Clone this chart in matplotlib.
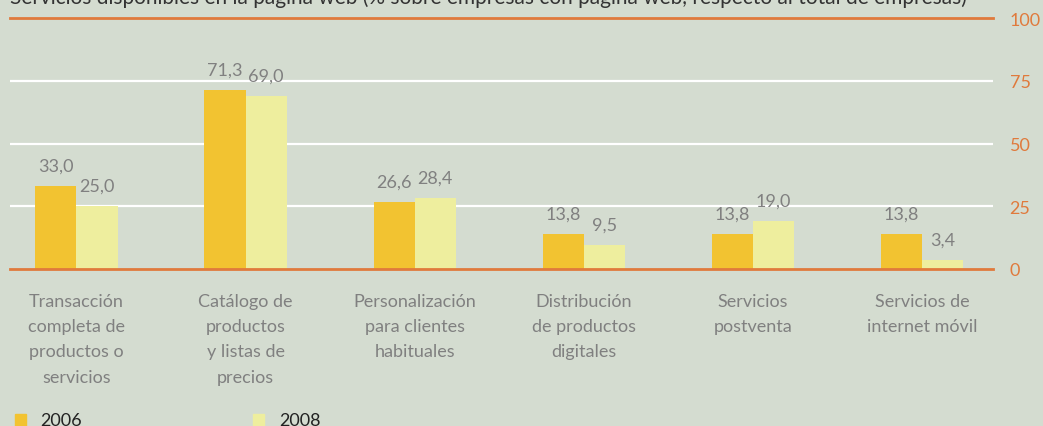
import matplotlib as mlb
mlb.use('Agg')
import matplotlib.pyplot as plt
from matplotlib.patches import Rectangle

# datos
categorias = ["Transacción\ncompleta de\nproductos o\nservicios",
              "Catálogo de\nproductos\ny listas de\nprecios",
              "Personalización\npara clientes\nhabituales",
              "Distribución\nde productos\ndigitales",
              "Servicios\npostventa",
              "Servicios de\ninternet móvil"]
v2006 = [33.0, 71.3, 26.6, 13.8, 13.8, 13.8]
v2008 = [25.0, 69.0, 28.4, 9.5, 19.0, 3.4]
yticks = [0, 25, 50, 75, 100]
titulo = "Servicios disponibles en la página web (% sobre empresas con página web, respecto al total de empresas)"

fondo = '#d4dcd0'
naranja = '#e07a3c'
amarillo = '#f2c331'
crema = '#eeee9e'
gris = '#808080'

plt.rcParams['font.family'] = ['Lato', 'DejaVu Sans']

W, H = 1043, 427
fig = plt.figure(figsize=(W / 100, H / 100), dpi=100, facecolor=fondo)

# ejes en pixeles
x0, x1 = 10, 993
ytop, ybot = 19, 270
ax = fig.add_axes([x0 / W, (H - ybot) / H, (x1 - x0) / W, (ybot - ytop) / H])
ax.set_facecolor(fondo)
for s in ax.spines.values():
    s.set_visible(False)

n = len(categorias)
xs = list(range(n))
w = 0.243

for y in [25, 50, 75]:
    ax.axhline(y, color='white', lw=1.6, zorder=1)
ax.axhline(100, color=naranja, lw=2, zorder=3, clip_on=False)

b1 = ax.bar([x - w / 2 for x in xs], v2006, width=w, color=amarillo, zorder=2)
b2 = ax.bar([x + w / 2 for x in xs], v2008, width=w, color=crema, zorder=2)
ax.axhline(0, color=naranja, lw=2, zorder=3, clip_on=False)

for bars, vals in [(b1, v2006), (b2, v2008)]:
    for b, v in zip(bars, vals):
        ax.annotate(f"{v:.1f}".replace('.', ','),
                    (b.get_x() + b.get_width() / 2, v),
                    xytext=(0, 9), textcoords='offset points',
                    ha='center', va='bottom', color=gris, fontsize=13)

ax.set_xlim(-0.393, 5.42)
ax.set_ylim(0, 100)
ax.set_xticks([])
ax.yaxis.tick_right()
ax.set_yticks(yticks)
ax.set_yticklabels([str(t) for t in yticks])
ax.tick_params(axis='y', length=0, pad=12, labelcolor=naranja, labelsize=13)

# etiquetas de categoria
for x, c in zip(xs, categorias):
    ax.annotate(c, (x, 0), xycoords=('data', 'axes fraction'),
                xytext=(0, -17), textcoords='offset points',
                ha='center', va='top', color=gris, fontsize=13,
                linespacing=1.72)

# titulo cortado arriba, como en el original
fig.text(10 / W, 1 - 4 / H, titulo, ha='left', va='baseline',
         color='#333333', fontsize=15)

# leyenda
fig.patches.append(Rectangle((15 / W, 0), 11 / W, 12 / H,
                             transform=fig.transFigure, color=amarillo))
fig.patches.append(Rectangle((253 / W, 0), 11 / W, 12 / H,
                             transform=fig.transFigure, color=crema))
fig.text(40 / W, 1 / H, "2006", ha='left', va='baseline', color='#222222', fontsize=13)
fig.text(279 / W, 1 / H, "2008", ha='left', va='baseline', color='#222222', fontsize=13)

fig.savefig('out.png', dpi=100, facecolor=fondo)
